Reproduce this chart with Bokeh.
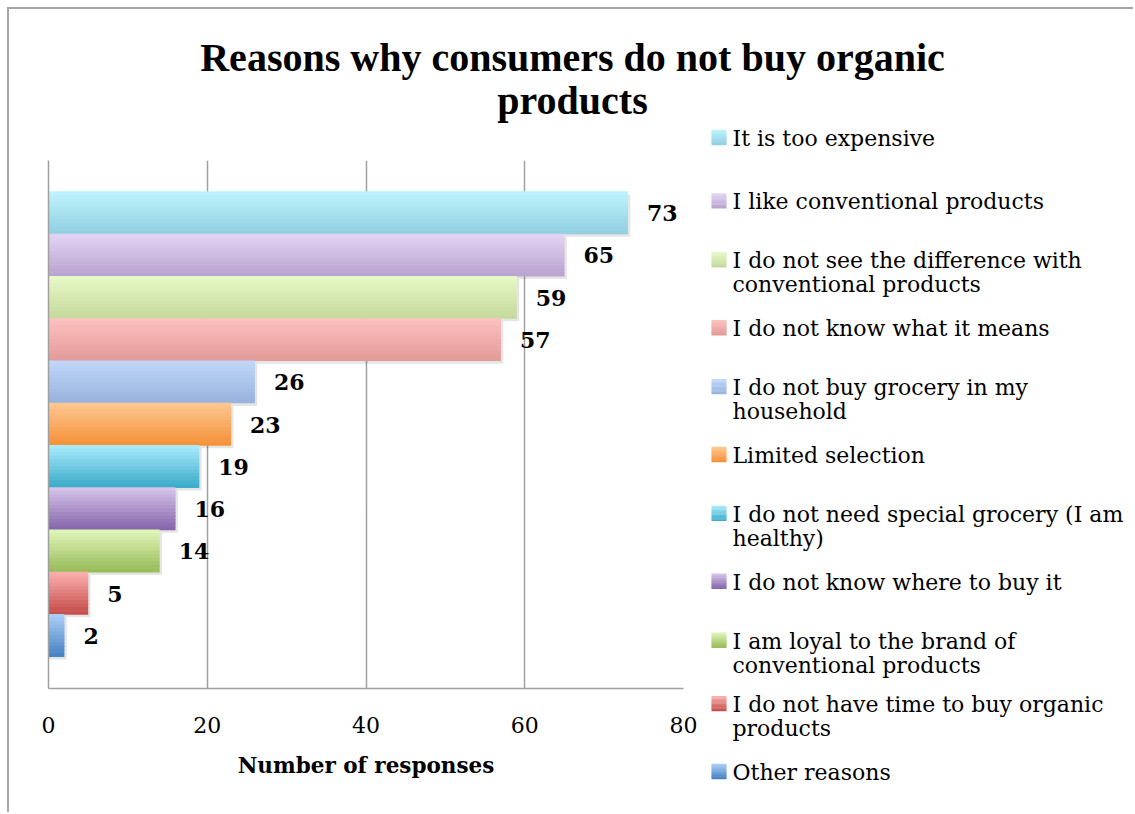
import numpy as np
from bokeh.plotting import figure
from bokeh.layouts import column, row
from bokeh.models import Range1d, FixedTicker, ColumnDataSource
from bokeh.core.properties import value
from bokeh.embed import file_html
from bokeh.resources import INLINE

# ---------------- data ----------------
title_lines = ["Reasons why consumers do not buy organic", "products"]
reasons = [
    "It is too expensive",
    "I like conventional products",
    "I do not see the  difference with\nconventional products",
    "I do not know what it means",
    "I do not buy grocery in my\nhousehold",
    "Limited selection",
    "I do not need special grocery (I am\nhealthy)",
    "I do not know where to buy it",
    "I am loyal to the brand of\nconventional products",
    "I do not have time to buy organic\nproducts",
    "Other reasons",
]
responses = [73, 65, 59, 57, 26, 23, 19, 16, 14, 5, 2]
x_ticks = [0, 20, 40, 60, 80]
x_title = "Number of responses"

top_colors = ["#BDF2FC", "#E2D3F3", "#E6F8C6", "#FCC0BE", "#BFD6F8", "#FFC690",
              "#A8E9FC", "#D4C3EA", "#DEF4B8", "#F9AEAC", "#ABCDF6"]
bottom_colors = ["#92D0E2", "#B9A5D0", "#C6DA9E", "#E29C9A", "#98B3DE", "#F5923A",
                 "#3DADCA", "#8767AB", "#9ABC5A", "#C64E4B", "#4884C4"]

# ---------------- helpers ----------------
def hex2rgb(h):
    h = h.lstrip("#")
    return np.array([int(h[i:i + 2], 16) for i in (0, 2, 4)], dtype=float)

def mix(c1, c2, t):
    c = hex2rgb(c1) * (1 - t) + hex2rgb(c2) * t
    return "#%02x%02x%02x" % tuple(int(round(v)) for v in c)

N_SLICES = 12
FONT = value("DejaVu Serif")
GRAY = "#a0a0a0"

n = len(responses)
pos = np.arange(n)[::-1].astype(float)  # first reason on top

# ---------------- title figure ----------------
W_ALL = 1124
H_TITLE = 117
t = figure(width=W_ALL, height=H_TITLE, x_range=Range1d(0, W_ALL), y_range=Range1d(H_TITLE, 0),
           x_axis_type=None, y_axis_type=None, output_backend="svg", toolbar_location=None,
           min_border=0)
t.frame_align = False
t.outline_line_color = None
t.xgrid.grid_line_color = None
t.ygrid.grid_line_color = None
t.text(x=[563] * len(title_lines), y=[48 + 43 * k for k in range(len(title_lines))], text=title_lines,
       text_align="center", text_baseline="middle", text_font=value("Liberation Serif"),
       text_font_style="bold", text_font_size="40px", text_color="#000000")

# ---------------- main chart ----------------
H_ROW = 686
W_MAIN = 696
p = figure(width=W_MAIN, height=H_ROW, x_range=Range1d(0, 80), y_range=Range1d(-1.245, n - 1 + 1.245),
           output_backend="svg", toolbar_location=None,
           min_border_left=39, min_border_right=22, min_border_top=34, min_border_bottom=124)
p.frame_align = False
p.outline_line_color = None
p.background_fill_color = "white"
p.ygrid.grid_line_color = None
p.xgrid.grid_line_color = GRAY
p.xgrid.grid_line_width = 1.5

p.xaxis.ticker = FixedTicker(ticks=x_ticks)
p.xaxis.axis_line_color = GRAY
p.xaxis.axis_line_width = 1.5
p.xaxis.major_tick_line_color = None
p.xaxis.minor_tick_line_color = None
p.xaxis.major_tick_out = 0
p.xaxis.major_tick_in = 0
p.xaxis.major_label_standoff = 28
p.xaxis.major_label_text_font = "DejaVu Serif"
p.xaxis.major_label_text_font_size = "22px"
p.xaxis.major_label_text_color = "#000000"
p.xaxis.axis_label = x_title
p.xaxis.axis_label_text_font = "DejaVu Serif"
p.xaxis.axis_label_text_font_size = "21.5px"
p.xaxis.axis_label_text_font_style = "bold"
p.xaxis.axis_label_text_color = "#000000"
p.xaxis.axis_label_standoff = 17

p.yaxis.ticker = FixedTicker(ticks=[])
p.yaxis.axis_line_color = GRAY
p.yaxis.axis_line_width = 1.5
p.yaxis.major_tick_line_color = None
p.yaxis.minor_tick_line_color = None

# shadows
p.hbar(y=pos - 0.06, height=1.0, left=0, right=np.array(responses) + 0.3,
       fill_color="black", fill_alpha=0.10, line_color=None)

# gradient bars built from slices
ys, hs, rights, cols = [], [], [], []
for i in range(n):
    for k in range(N_SLICES):
        ys.append(pos[i] + 0.5 - (k + 0.5) / N_SLICES)
        hs.append(1.0 / N_SLICES + (0.03 if k < N_SLICES - 1 else 0.0))
        rights.append(responses[i])
        cols.append(mix(top_colors[i], bottom_colors[i], k / (N_SLICES - 1)))
p.hbar(source=ColumnDataSource(dict(y=ys, h=hs, r=rights, c=cols)),
       y="y", height="h", left=0, right="r", fill_color="c", line_color=None)

# data labels
p.text(x=responses, y=pos, text=[str(v) for v in responses], x_offset=19,
       text_align="left", text_baseline="middle", text_font=FONT, text_font_style="bold",
       text_font_size="22px", text_color="#000000")

# ---------------- legend figure ----------------
W_LEG = W_ALL - W_MAIN
lg = figure(width=W_LEG, height=H_ROW, x_range=Range1d(0, W_LEG), y_range=Range1d(H_ROW, 0),
            x_axis_type=None, y_axis_type=None, output_backend="svg", toolbar_location=None,
            min_border=0)
lg.frame_align = False
lg.outline_line_color = None
lg.xgrid.grid_line_color = None
lg.ygrid.grid_line_color = None

SLOT0, SLOT_STEP = 12, 63.4
SQ = 15
sx, sy, sc = [], [], []
tx, ty, tt = [], [], []
for i, lab in enumerate(reasons):
    slot = SLOT0 + SLOT_STEP * i
    lines = lab.split("\n")
    first = slot if len(lines) == 1 else slot - 4.5
    for j, ln in enumerate(lines):
        tx.append(27)
        ty.append(first + 24 * j)
        tt.append(ln)
    sq_c = first - 1
    for k in range(N_SLICES):
        sx.append(13.5)
        sy.append(sq_c - SQ / 2 + (k + 0.5) * SQ / N_SLICES)
        sc.append(mix(top_colors[i], bottom_colors[i], k / (N_SLICES - 1)))
lg.rect(source=ColumnDataSource(dict(x=sx, y=sy, c=sc)), x="x", y="y",
        width=SQ, height=SQ / N_SLICES + 0.4, fill_color="c", line_color=None)
lg.text(x=tx, y=ty, text=tt, text_align="left", text_baseline="middle", text_font=FONT,
        text_font_size="22px", text_color="#000000")

root = column(t, row(p, lg))
root.styles = {"margin-left": "7px", "margin-top": "7px",
               "border-style": "solid", "border-color": "#a6a6a6",
               "border-width": "2px 0px 0px 2px"}

open("out.html", "w").write(file_html(root, INLINE))
